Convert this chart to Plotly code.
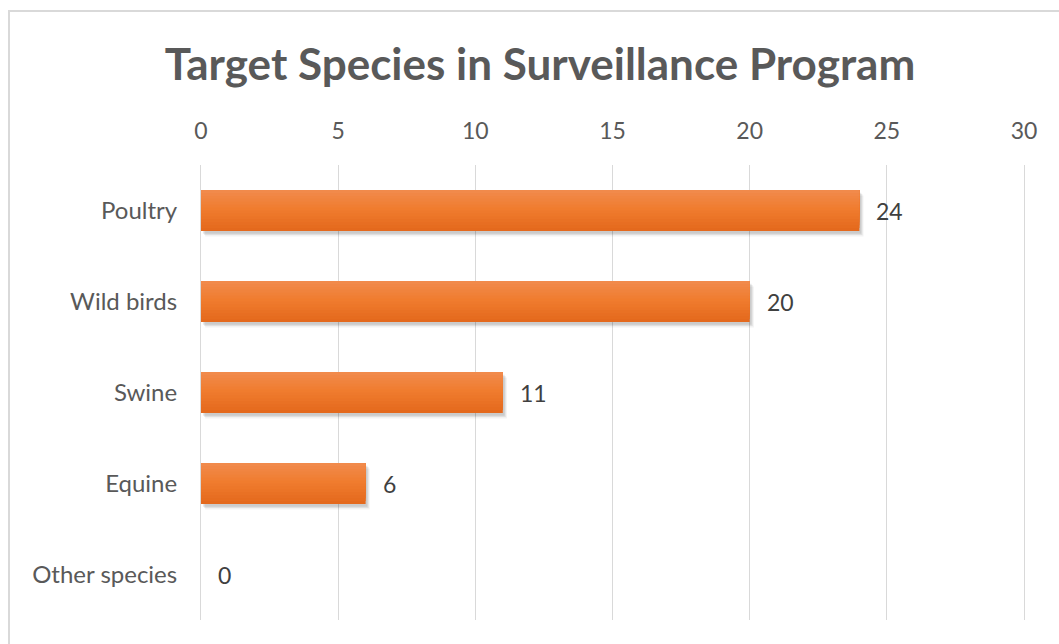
import plotly.graph_objects as go

categories = ["Poultry", "Wild birds", "Swine", "Equine", "Other species"]
values = [24, 20, 11, 6, 0]
x_ticks = [0, 5, 10, 15, 20, 25, 30]
title_text = "Target Species in Surveillance Program"

W, H = 1059, 644
L, R, T, B = 201, 35, 165, 24
pw, ph = W - L - R, H - T - B

FONT = "Lato"
GRAY = "#595959"
GRID = "#d9d9d9"
BAR_W = 0.45

fig = go.Figure()

# soft shadow layers (below/right of each bar)
for dy, dx, alpha in [(0.06, 0.15, 0.05), (0.045, 0.11, 0.07), (0.03, 0.07, 0.09)]:
    fig.add_trace(go.Bar(
        y=categories, x=values, orientation="h", base=dx,
        marker=dict(color=f"rgba(0,0,0,{alpha})", line=dict(width=0)),
        width=BAR_W, offset=-BAR_W / 2 - dy,
        hoverinfo="skip", showlegend=False,
    ))

# vertical gradient: nested bars anchored at the top edge, lighter as they shrink
top = (0xF1, 0x8C, 0x50)
mid = (0xF0, 0x7C, 0x2E)
bot = (0xE4, 0x69, 0x1D)
N = 14
for i in range(N):
    t = 1 - i / N
    if t < 0.5:
        a, b_, f = top, mid, t / 0.5
    else:
        a, b_, f = mid, bot, (t - 0.5) / 0.5
    col = tuple(round(a[k] + (b_[k] - a[k]) * f) for k in range(3))
    w = BAR_W * (1 - i / N)
    fig.add_trace(go.Bar(
        y=categories, x=values, orientation="h",
        marker=dict(color="rgb(%d,%d,%d)" % col, line=dict(width=0)),
        width=w, offset=BAR_W / 2 - w,
        hoverinfo="skip" if i else None, showlegend=False,
    ))

for c, v in zip(categories, values):
    fig.add_annotation(
        x=v, y=c, xref="x", yref="y", text=str(v), showarrow=False,
        xanchor="left", yanchor="middle", xshift=15,
        font=dict(family=FONT, size=23, color="#404040"),
    )

# outer chart border (extends beyond the cropped image)
fig.add_shape(
    type="rect", xref="paper", yref="paper",
    x0=(9 - L) / pw, x1=(1090 - L) / pw,
    y0=(H - B - 680) / ph, y1=(H - B - 11) / ph,
    line=dict(color=GRID, width=2), fillcolor="rgba(0,0,0,0)", layer="below",
)

fig.update_layout(
    width=W, height=H,
    margin=dict(l=L, r=R, t=T, b=B, autoexpand=False),
    paper_bgcolor="white", plot_bgcolor="white",
    barmode="overlay",
    title=dict(
        text="<b>" + title_text + "</b>",
        x=540 / W, xanchor="center", xref="container",
        y=1 - 65 / H, yanchor="middle", yref="container",
        font=dict(family=FONT, size=44, color=GRAY),
    ),
    xaxis=dict(
        side="top", range=[0, 30], tickvals=x_ticks,
        showgrid=True, gridcolor=GRID, gridwidth=1,
        zeroline=False, showline=False, ticks="",
        ticklabelstandoff=20,
        tickfont=dict(family=FONT, size=23, color=GRAY),
        fixedrange=True,
    ),
    yaxis=dict(
        categoryorder="array", categoryarray=categories[::-1],
        showgrid=False, zeroline=False,
        showline=True, linecolor=GRID, linewidth=1, mirror=True,
        ticks="",
        ticklabelstandoff=18,
        tickfont=dict(family=FONT, size=24, color=GRAY),
        fixedrange=True,
    ),
    font=dict(family=FONT),
)

fig.write_html("out.html")
